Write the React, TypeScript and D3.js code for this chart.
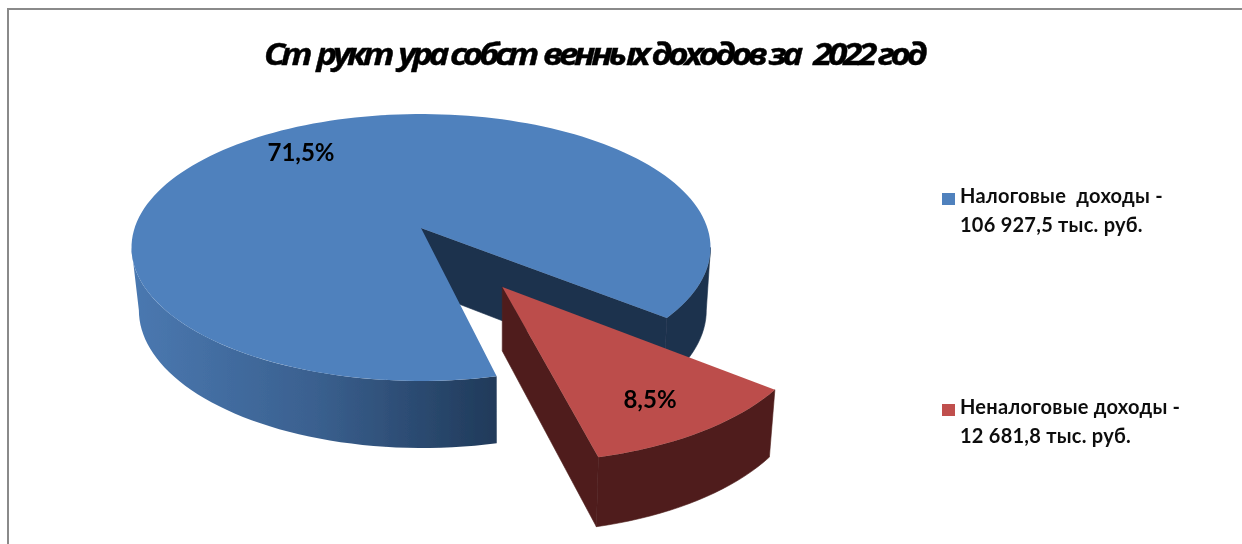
import React from "react";
import * as d3 from "d3";

const titleText = "Структура собственных доходов за 2022 год";
const categories = ["Налоговые  доходы -", "Неналоговые доходы -"];
const amounts = ["106 927,5 тыс. руб.", "12 681,8 тыс. руб."];
const values = [106927.5, 12681.8];
const percentLabels = ["71,5%", "8,5%"];
const topColors = ["#4f81bd", "#bc4e4b"];
const legendColors = ["#4f81bd", "#c0504d"];

const W = 1242, H = 544;
const cx = 421, cy = 228, A = 286.4, B = 130.6, K = 0.146, DEPTH = 62;
const EXPLODE = 0.5;
const rad = Math.PI / 180;
const silhouette = Math.asin(K);

type P = [number, number];
const proj = (u: number, v: number, low = false): P => {
  const s = 1 / (1 - K * v);
  const x = cx + A * u * s;
  const y = cy + B * v * s;
  if (!low) return [x, y];
  return [500 + (x - 500) * 0.98, y + DEPTH * Math.sqrt(s)];
};
// d3 angle (clockwise from 12 o'clock) to ground direction
const dir = (a: number): P => [Math.sin(a), -Math.cos(a)];
const path = d3.line<P>().x((d) => d[0]).y((d) => d[1]);

const samples = (a0: number, a1: number) => {
  const n = Math.max(2, Math.ceil((Math.abs(a1 - a0) / rad) / 2));
  return d3.range(n + 1).map((i) => a0 + ((a1 - a0) * i) / n);
};

const arcPts = (a0: number, a1: number, o: P, low = false) =>
  samples(a0, a1).map((a) => {
    const [u, v] = dir(a);
    return proj(o[0] + u, o[1] + v, low);
  });

const wall = (a0: number, a1: number, o: P) =>
  (path([...arcPts(a0, a1, o), ...arcPts(a0, a1, o, true).reverse()]) as string) + "Z";
const face = (a0: number, a1: number, o: P) =>
  (path([proj(o[0], o[1]), ...arcPts(a0, a1, o)]) as string) + "Z";
const radial = (a: number, o: P) => {
  const [u, v] = dir(a);
  return (
    (path([
      proj(o[0], o[1]),
      proj(o[0] + u, o[1] + v),
      proj(o[0] + u, o[1] + v, true),
      proj(o[0], o[1], true),
    ]) as string) + "Z"
  );
};

const pie = d3
  .pie<number>()
  .sort(null)
  .startAngle(166.9 * rad)
  .endAngle((166.9 + 360) * rad);
const [blue, red] = pie(values);
const turn = 2 * Math.PI;
const redStart = red.startAngle - turn;
const redEnd = red.endAngle - turn;
const redMid = (redStart + redEnd) / 2;
const blueEnd = blue.endAngle - turn;
const redO: P = [dir(redMid)[0] * EXPLODE, dir(redMid)[1] * EXPLODE];
const zero: P = [0, 0];
// silhouette of the drum: where the outer wall turns out of sight
const rightEdge = Math.PI / 2 + silhouette;
const leftEdge = (3 * Math.PI) / 2 - silhouette;

const titleFont = "'Open Sans', sans-serif";
const bodyFont = "Lato, 'Open Sans', sans-serif";
const titleDx = Array.from(titleText)
  .map((c, i, arr) => {
    if (i > 0 && arr[i - 1] === "т") return 7;
    if (c === "2" && arr[i - 1] === " ") return 8;
    return 0;
  })
  .join(" ");

const darkBlue = "#1d324e";
const darkRed = "#4f1e1c";

export default function App() {
  return (
    <svg
      width={W}
      height={H}
      viewBox={`0 0 ${W} ${H}`}
      style={{ position: "fixed", left: 0, top: 0, background: "#fff" }}
    >
      <defs>
        <linearGradient id="blueWall" gradientUnits="userSpaceOnUse" x1={135} x2={495} y1={0} y2={0}>
          <stop offset="0" stopColor="#4a78b0" />
          <stop offset="0.5" stopColor="#3a608f" />
          <stop offset="1" stopColor="#203a5a" />
        </linearGradient>
        <filter id="soft" x="-5%" y="-5%" width="110%" height="110%">
          <feGaussianBlur stdDeviation="0.5" />
        </filter>
      </defs>
      <rect x={8} y={9} width={W + 20} height={H + 20} fill="#fff" stroke="#8a8a8a" strokeWidth={2} />
      <g filter="url(#soft)">
        <path d={wall(rightEdge, blueEnd, zero)} fill={darkBlue} stroke={darkBlue} strokeWidth={0.6} />
        <path d={radial(blueEnd, zero)} fill={darkBlue} stroke={darkBlue} strokeWidth={0.6} />
        <path d={wall(blue.startAngle, leftEdge, zero)} fill="url(#blueWall)" />
        <path d={face(blue.startAngle, blue.endAngle, zero)} fill={topColors[0]} />
        <path d={radial(redEnd, redO)} fill={darkRed} stroke={darkRed} strokeWidth={0.6} />
        <path d={wall(redStart, redEnd, redO)} fill={darkRed} stroke={darkRed} strokeWidth={0.6} />
        <path d={face(redStart, redEnd, redO)} fill={topColors[1]} />
        <g transform="translate(264,65) scale(1.16,1)">
          <text
            x={0}
            y={0}
            dx={titleDx}
            fontFamily={titleFont}
            fontSize={30}
            fontWeight={700}
            fontStyle="italic"
            letterSpacing={-3.6}
            stroke="#000"
            strokeWidth={0.4}
            fill="#000"
          >
            {titleText}
          </text>
        </g>
        <text x={301} y={161} textAnchor="middle" fontFamily={bodyFont} fontSize={24} fontWeight={700} fill="#000">
          {percentLabels[0]}
        </text>
        <text x={650} y={408} textAnchor="middle" fontFamily={bodyFont} fontSize={24} fontWeight={700} fill="#000">
          {percentLabels[1]}
        </text>
        {categories.map((c, i) => {
          const y0 = [203, 414][i];
          return (
            <g key={c}>
              <rect x={942} y={y0 - 10} width={13} height={12} fill={legendColors[i]} />
              <text x={960} y={y0} fontFamily={bodyFont} fontSize={20} fontWeight={700} letterSpacing={0.25} fill="#111" style={{ whiteSpace: "pre" }}>
                {c}
              </text>
              <text x={960} y={y0 + 29} fontFamily={bodyFont} fontSize={20} fontWeight={700} letterSpacing={0.25} fill="#111">
                {amounts[i]}
              </text>
            </g>
          );
        })}
      </g>
    </svg>
  );
}
